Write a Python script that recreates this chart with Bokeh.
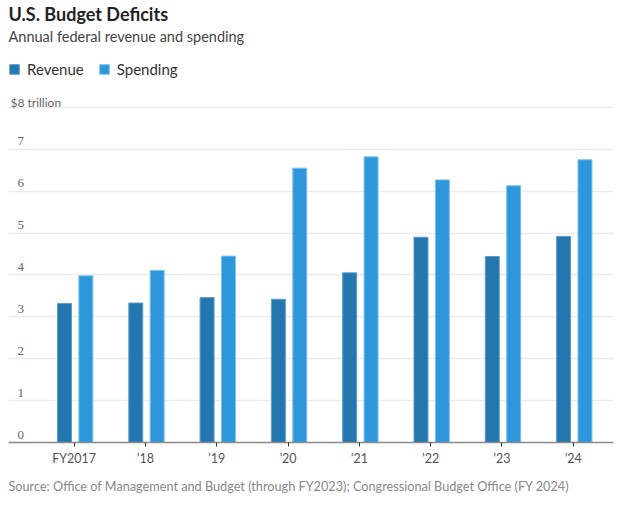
from bokeh.plotting import figure
from bokeh.models import (ColumnDataSource, Range1d, FixedTicker, Title, Legend, LegendItem,
                          LabelSet, Label)
from bokeh.transform import dodge
from bokeh.embed import file_html
from bokeh.resources import INLINE

years = ["FY2017", "’18", "’19", "’20", "’21", "’22", "’23", "’24"]
revenue = [3.32, 3.33, 3.46, 3.42, 4.05, 4.90, 4.44, 4.92]
spending = [3.98, 4.11, 4.45, 6.55, 6.82, 6.27, 6.13, 6.75]
y_ticks = [0, 1, 2, 3, 4, 5, 6, 7, 8]
y_tick_labels = ["0", "1", "2", "3", "4", "5", "6", "7", "$8 trillion"]

FONT = "Lato"
REV_COLOR = "#2377ae"
SPEND_COLOR = "#2e97db"

idx = list(range(len(years)))
src = ColumnDataSource(dict(x=idx, revenue=revenue, spending=spending, year=years))

p = figure(width=620, height=504, output_backend="svg", toolbar_location=None,
           title=None, x_range=Range1d(-0.92, len(years) - 0.435),
           y_range=Range1d(0, 9.12),
           min_border_left=8, min_border_right=7, min_border_top=0, min_border_bottom=62)
p.outline_line_color = None
p.background_fill_color = "white"
p.border_fill_color = "white"

spacer = Title(text=" ", text_font=FONT, text_font_size="2px", align="left", offset=0, standoff=10)
sub = Title(text="Annual federal revenue and spending", text_font=FONT, text_font_size="14.5px",
            text_font_style="normal", text_color="#444444", align="left", offset=0, standoff=3)
ttl = Title(text="U.S. Budget Deficits", text_font=FONT, text_font_size="18px",
            text_font_style="bold", text_color="#222222", align="left", offset=0, standoff=0)
p.add_layout(spacer, "above")
p.add_layout(sub, "above")
p.add_layout(ttl, "above")

r1 = p.vbar(x=dodge("x", -0.135, range=p.x_range), top="revenue", width=0.196, source=src,
            fill_color=REV_COLOR, line_color="#5d9cc6", line_width=1)
r2 = p.vbar(x=dodge("x", 0.165, range=p.x_range), top="spending", width=0.196, source=src,
            fill_color=SPEND_COLOR, line_color="#7cc2ec", line_width=1)

# axes
p.yaxis.visible = False
p.xaxis.ticker = FixedTicker(ticks=idx)
p.xaxis.major_label_overrides = {i: y for i, y in enumerate(years)}
p.xaxis.axis_line_color = "#8a8a8a"
p.xaxis.axis_line_width = 1.5
p.xaxis.major_tick_line_color = "#333333"
p.xaxis.major_tick_in = 0
p.xaxis.major_tick_out = 4
p.xaxis.minor_tick_line_color = None
p.xaxis.major_label_text_font = FONT
p.xaxis.major_label_text_font_size = "12.5px"
p.xaxis.major_label_text_color = "#555555"
p.xaxis.major_label_standoff = 4

p.xgrid.visible = False
p.ygrid.ticker = FixedTicker(ticks=y_ticks)
p.ygrid.grid_line_color = "#ececec"
p.ygrid.grid_line_width = 1.5

# y tick labels drawn inside the plot area
lab_src = ColumnDataSource(dict(y=y_ticks[:-1], text=y_tick_labels[:-1]))
p.add_layout(LabelSet(x=9, y="y", x_units="screen", text="text", source=lab_src,
                      y_offset=4, text_font=FONT, text_font_size="13px",
                      text_color="#666666", text_baseline="alphabetic", text_align="left"))
p.add_layout(Label(x=2, y=y_ticks[-1], x_units="screen", text=y_tick_labels[-1],
                   y_offset=5, text_font=FONT, text_font_size="12px",
                   text_color="#666666", text_baseline="alphabetic", text_align="left"))

legend = Legend(items=[LegendItem(label="Revenue", renderers=[r1]),
                       LegendItem(label="Spending", renderers=[r2])],
                location="top_left", orientation="horizontal", margin=0, padding=0,
                spacing=14, label_standoff=7, glyph_width=12, glyph_height=12,
                label_height=13, label_text_font=FONT, label_text_font_size="15px",
                label_text_color="#333333", border_line_color=None,
                background_fill_alpha=0)
p.add_layout(legend)

src_title = Title(text="Source: Office of Management and Budget (through FY2023); Congressional Budget Office (FY 2024)",
                  text_font=FONT, text_font_size="12.7px", text_font_style="normal",
                  text_color="#888888", align="left", offset=0, standoff=14)
p.add_layout(src_title, "below")

open("out.html", "w").write(file_html(p, INLINE))
